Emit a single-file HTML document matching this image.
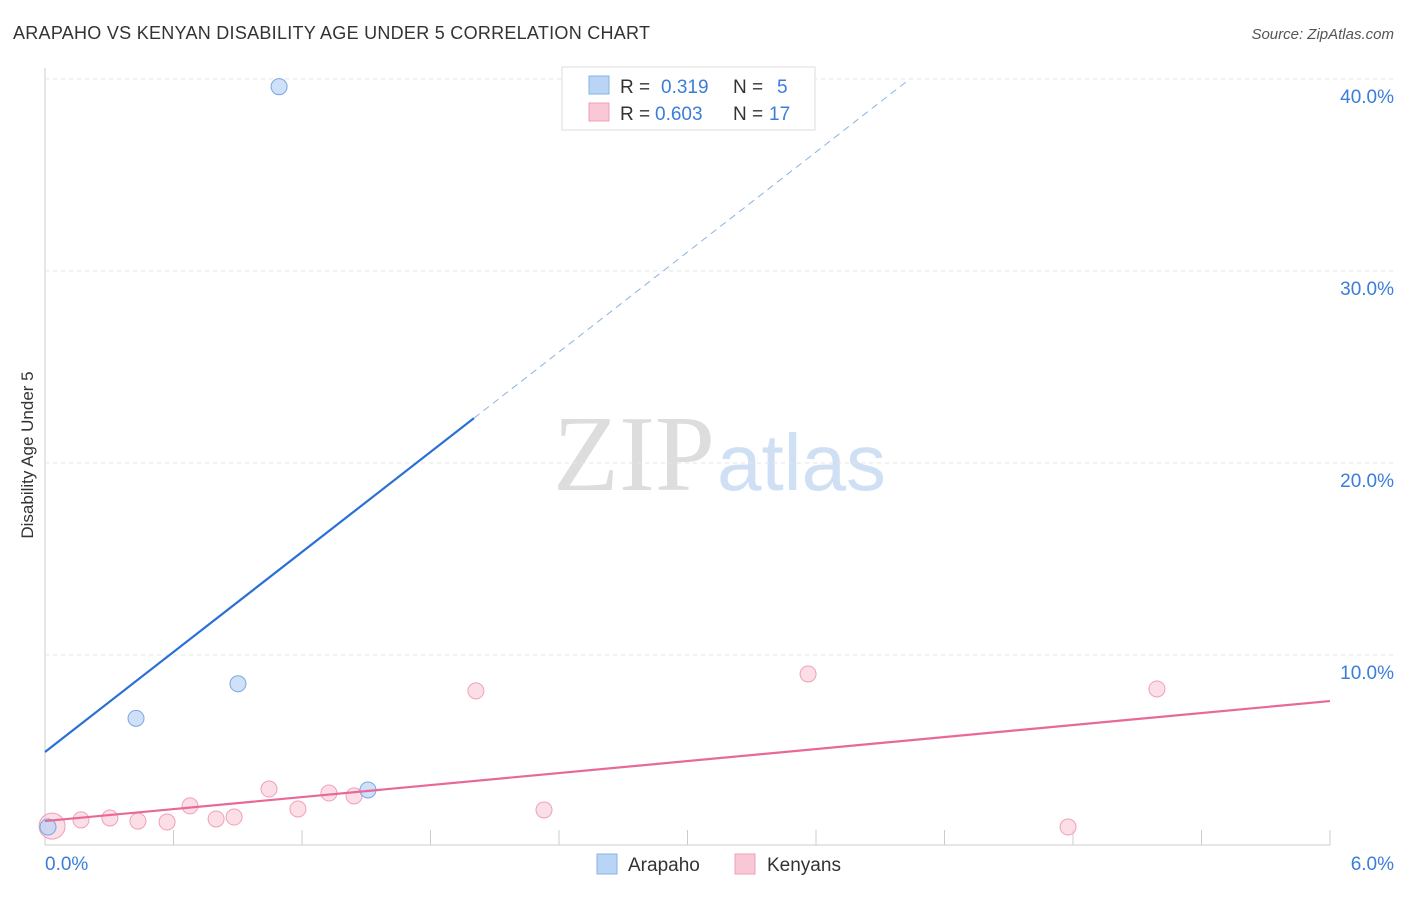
<!DOCTYPE html>
<html><head><meta charset="utf-8"><style>
body{margin:0;background:#fff;font-family:"Liberation Sans",sans-serif;}
</style></head><body>
<svg width="1406" height="892" xmlns="http://www.w3.org/2000/svg" id="svg" font-family="Liberation Sans, sans-serif">
<text x="13" y="39" font-size="18" fill="#333" textLength="637">ARAPAHO VS KENYAN DISABILITY AGE UNDER 5 CORRELATION CHART</text>
<text x="1394" y="39" font-size="15" fill="#555" font-style="italic" text-anchor="end">Source: ZipAtlas.com</text>
<text x="715" y="490" font-size="108" fill="#ddd" text-anchor="end" font-family="Liberation Serif, serif">ZIP</text>
<text x="717" y="490" font-size="80" fill="#cfe0f5">atlas</text>
<text transform="translate(33,455) rotate(-90)" font-size="17" fill="#333" text-anchor="middle">Disability Age Under 5</text>
<g id="grid"></g><g id="marks"></g>
<g>
<rect x="562" y="67" width="253" height="63" fill="#fff" stroke="#ddd"/>
<rect x="589" y="76" width="20" height="18" fill="#b9d4f5" stroke="#8ab2e6"/>
<text x="620" y="93" font-size="19" fill="#333">R =</text>
<text x="661" y="93" font-size="19" fill="#3b7dd8">0.319</text>
<text x="733" y="93" font-size="19" fill="#333">N =</text>
<text x="777" y="93" font-size="19" fill="#3b7dd8">5</text>
<rect x="589" y="103" width="20" height="18" fill="#f9c8d6" stroke="#f0a0b8"/>
<text x="620" y="120" font-size="19" fill="#333">R =</text>
<text x="655" y="120" font-size="19" fill="#3b7dd8">0.603</text>
<text x="733" y="120" font-size="19" fill="#333">N =</text>
<text x="769" y="120" font-size="19" fill="#3b7dd8">17</text>
</g>
<g>
<rect x="597" y="854" width="20" height="20" fill="#b9d4f5" stroke="#8ab2e6"/>
<text x="628" y="871" font-size="19" fill="#333">Arapaho</text>
<rect x="735" y="854" width="20" height="20" fill="#f9c8d6" stroke="#f0a0b8"/>
<text x="767" y="871" font-size="19" fill="#333">Kenyans</text>
</g>
</svg>
<script>
const xTicks=[0,6];
const yTicks=[10,20,30,40];
const arapahoX=[1.093,0.425,0.901,1.508,0.014];
const arapahoY=[39.6,6.7,8.5,2.97,1.04];
const kenyanX=[0.033,0.168,0.303,0.434,0.570,0.677,0.799,0.883,1.046,1.181,1.326,1.443,2.012,2.330,3.563,4.777,5.192];
const kenyanY=[1.09,1.41,1.51,1.35,1.30,2.14,1.46,1.56,3.02,1.98,2.81,2.66,8.13,1.93,9.01,1.04,8.23];
const blueLine=[4.95,8.68];
const pinkLine=[1.35,1.042];
const sx=v=>45+v*1285/6, sy=v=>847-v*19.2;
const NS="http://www.w3.org/2000/svg";
const g=document.getElementById('grid'), m=document.getElementById('marks');
function el(t,a,p){const e=document.createElementNS(NS,t);for(const k in a)e.setAttribute(k,a[k]);p.appendChild(e);return e;}
let ax=el('line',{x1:45,y1:68,x2:45,y2:845,stroke:'#ccc'},g);


let bx=el('line',{x1:45,y1:845,x2:1330,y2:845,stroke:'#ccc'},g);


for(let i=0;i<=10;i++){const x=sx(i*0.6);let t=el('line',{x1:x,y1:830,x2:x,y2:845,stroke:'#ccc'},g);

}
yTicks.forEach(v=>{let l=el('line',{x1:45,y1:sy(v),x2:1394,y2:sy(v),stroke:'#e6e6e6','stroke-dasharray':'4,4'},g);


let t=el('text',{x:1394,y:sy(v)+24,'font-size':19,fill:'#3b7dd8','text-anchor':'end'},g);t.textContent=v.toFixed(1)+'%';

});
xTicks.forEach((v,i)=>{let t=el('text',{x:i?1394:45,y:870,'font-size':19,fill:'#3b7dd8','text-anchor':i?'end':'start'},g);t.textContent=v.toFixed(1)+'%';

});
kenyanX.forEach((x,i)=>{let c=el('circle',{cx:sx(x),cy:sy(kenyanY[i]),r:i==0?13:8,fill:'rgba(249,200,214,0.6)',stroke:'#f0a0b8'},m);

});
arapahoX.forEach((x,i)=>{let c=el('circle',{cx:sx(x),cy:sy(arapahoY[i]),r:8,fill:'rgba(185,212,245,0.7)',stroke:'#7aa6e0'},m);

});
const bEnd=(40-blueLine[0])/blueLine[1];
let b1=el('line',{x1:sx(0),y1:sy(blueLine[0]),x2:sx(2.003),y2:sy(blueLine[0]+blueLine[1]*2.003),stroke:'#2a70d6','stroke-width':2.2},m);


let b2=el('line',{x1:sx(2.003),y1:sy(blueLine[0]+blueLine[1]*2.003),x2:sx(bEnd),y2:sy(40),stroke:'#8ab2e6','stroke-width':1,'stroke-dasharray':'7,5'},m);


let p=el('line',{x1:sx(0),y1:sy(pinkLine[0]),x2:sx(6),y2:sy(pinkLine[0]+pinkLine[1]*6),stroke:'#e8689a','stroke-width':2.2},m);


</script>
</body></html>
